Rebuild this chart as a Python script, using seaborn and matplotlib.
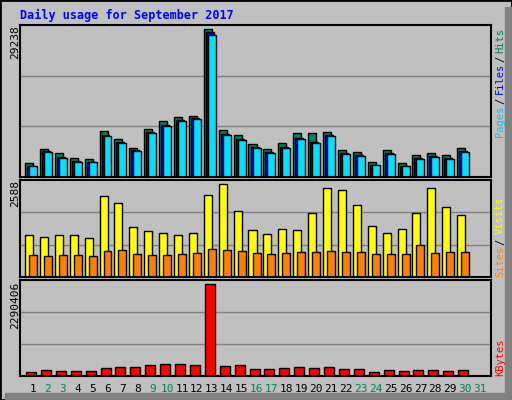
import matplotlib
matplotlib.use('Agg')
import matplotlib.pyplot as plt
import seaborn as sns
import pandas as pd
from matplotlib.patches import Rectangle

# values
days = list(range(1, 31))
hits = [2766, 5434, 4644, 3853, 3458, 9090, 7509, 5730, 9485, 11066,
        11856, 12054, 29238, 9287, 8299, 6521, 5533, 6718, 8694, 8694,
        8892, 5335, 4940, 2964, 5335, 2766, 4347, 4742, 4347, 5730]
files = [2174, 5138, 3952, 3162, 2964, 8299, 6916, 5335, 8892, 10275,
         11263, 11658, 28652, 8497, 7509, 5928, 4940, 5928, 7706, 6916,
         8299, 4742, 4347, 2371, 4742, 2174, 3754, 4150, 3754, 5138]
pages = [2100, 5000, 3850, 3050, 2900, 8100, 6750, 5200, 8700, 10050,
         11000, 11400, 28000, 8300, 7350, 5800, 4800, 5800, 7500, 6800,
         8100, 4600, 4200, 2300, 4600, 2100, 3650, 4050, 3650, 5000]
visits = [1168, 1112, 1168, 1168, 1084, 2252, 2057, 1390, 1279, 1223,
          1168, 1223, 2280, 2588, 1835, 1307, 1195, 1334, 1307, 1779,
          2474, 2419, 2002, 1418, 1223, 1334, 1779, 2474, 1946, 1724]
sites = [612, 584, 612, 612, 584, 723, 751, 639, 612, 612,
         639, 667, 778, 751, 723, 667, 639, 667, 695, 695,
         723, 695, 695, 639, 639, 639, 890, 667, 695, 695]
kbytes = [99600, 149400, 124500, 124500, 124500, 199200, 224100, 224100, 273900, 298800,
          298800, 273900, 2290406, 249000, 273900, 174300, 174300, 199200, 224100, 199200,
          224100, 174300, 174300, 99600, 149400, 124500, 149400, 149400, 124500, 149400]
day_labels = [str(d) for d in range(1, 32)]
weekend = {2, 3, 9, 10, 16, 17, 23, 24, 30, 31}

GRAY = '#c0c0c0'
px = 1 / 14.9  # one pixel in day units
mono = 'DejaVu Sans Mono'

sns.set_theme(style='white')
fig = plt.figure(figsize=(5.12, 4.0), dpi=100, facecolor=GRAY)

# outer bevel
fig.patches.append(Rectangle((0, 0), 1, 1, transform=fig.transFigure, fill=False,
                             edgecolor='black', linewidth=2, zorder=0))
fig.patches.append(Rectangle((505 / 512, 0), 7 / 512, 393 / 400, transform=fig.transFigure,
                             color='#808080', zorder=0))
fig.patches.append(Rectangle((5 / 512, 0), 507 / 512, 7 / 400, transform=fig.transFigure,
                             color='#808080', zorder=0))

ax1 = fig.add_axes([20 / 512, 1 - 177 / 400, 471 / 512, 152 / 400])
ax2 = fig.add_axes([20 / 512, 1 - 277 / 400, 471 / 512, 97 / 400])
ax3 = fig.add_axes([20 / 512, 1 - 376 / 400, 471 / 512, 96 / 400])


def bars(ax, vals, offset, color, width=8):
    df = pd.DataFrame({'x': [d + offset * px for d in days], 'v': vals})
    sns.barplot(data=df, x='x', y='v', native_scale=True, width=width * px,
                color=color, edgecolor='black', linewidth=1, saturation=1, ax=ax)


bars(ax1, hits, -4, '#00805c')
bars(ax1, files, -2, '#0000ff')
bars(ax1, pages, 0, '#00e0ff')
bars(ax2, visits, -4, '#ffff00')
bars(ax2, sites, 0, '#ff8000')
bars(ax3, kbytes, -2, '#ff0000', width=10)

for ax, top in [(ax1, 30035), (ax2, 2697), (ax3, 2390016)]:
    ax.set_facecolor(GRAY)
    ax.set_xlim(1 - 13 * px, 1 + 458 * px)
    ax.set_ylim(0, top)
    for f in (1 / 3, 2 / 3):
        ax.axhline(top * f, color='#808080', linewidth=1, zorder=0.5)
    ax.set_xlabel('')
    ax.set_ylabel('')
    ax.set_yticks([])
    for s in ax.spines.values():
        s.set_color('black')
        s.set_linewidth(1.5)

ax1.set_xticks([])
ax2.set_xticks([])
ax3.set_xticks(range(1, 32))
ax3.set_xticklabels(day_labels, fontfamily=mono, fontsize=8)
ax3.tick_params(axis='x', length=0, pad=6)
for lab, d in zip(ax3.get_xticklabels(), range(1, 32)):
    lab.set_color('#00805c' if d in weekend else 'black')

fig.text(20 / 512, 1 - 15 / 400, 'Daily usage for September 2017', color='#0000ff',
         fontfamily=mono, fontweight='bold', fontsize=8.5, va='center')

for text, ytop in [('29238', 25), ('2588', 180), ('2290406', 282)]:
    fig.text(15 / 512, 1 - ytop / 400, text, rotation=90, fontfamily=mono, fontsize=8,
             ha='center', va='top', color='black')

# right side legends, bottom to top
right = [
    [('Pages', '#00c0ff', 137), ('/', 'black', 104), ('Files', '#0000ff', 94), ('/', 'black', 62), ('Hits', '#00805c', 53)],
    [('Sites', '#ff8000', 277), ('/', 'black', 245), ('Visits', '#ffff00', 234)],
    [('KBytes', '#ff0000', 376)],
]
for group in right:
    for text, col, ybot in group:
        fig.text(500 / 512, 1 - ybot / 400, text, rotation=90, fontfamily=mono,
                 fontsize=7.5, ha='center', va='bottom', color=col)

fig.savefig('out.png', dpi=100, facecolor=GRAY)
